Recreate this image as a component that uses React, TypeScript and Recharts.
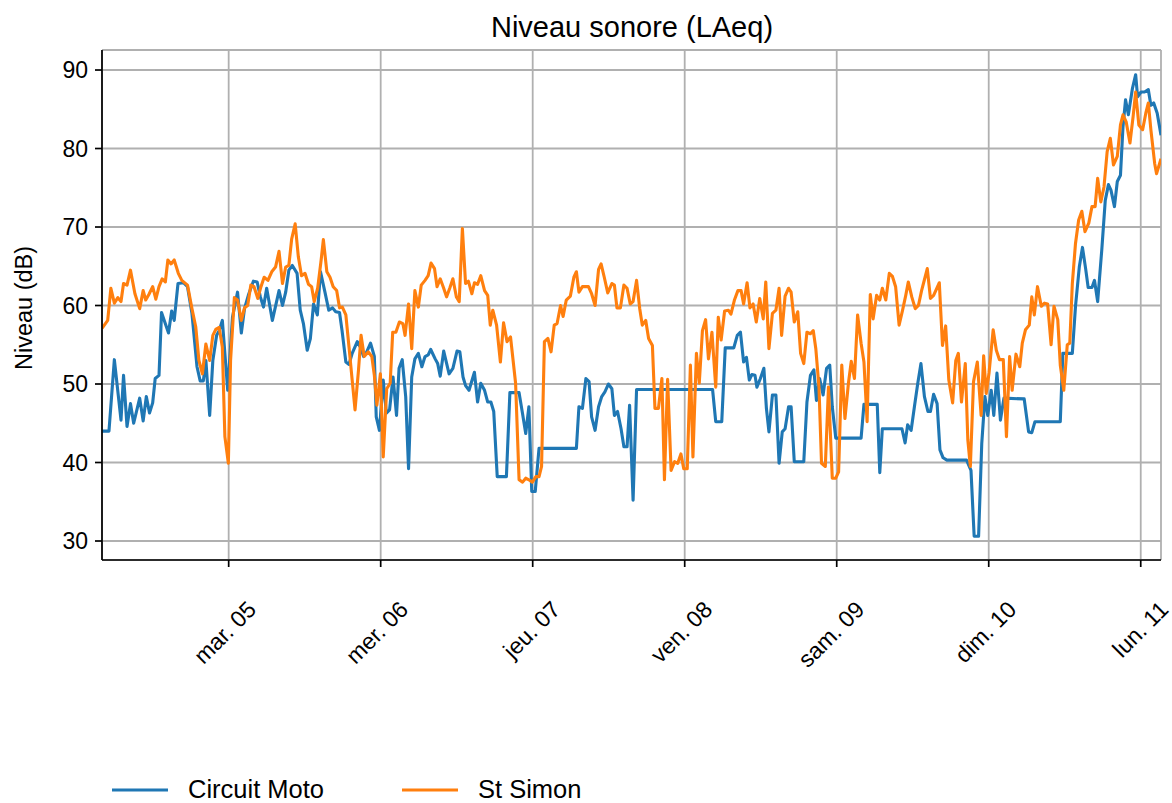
import React from 'react';
import { LineChart, Line, XAxis, YAxis, CartesianGrid } from 'recharts';

const FONT = '"Liberation Sans", Arial, sans-serif';

// x values: hours since lundi 04 00:00
const dayTicks = [24, 48, 72, 96, 120, 144, 168];
const dayLabels = ['mar. 05', 'mer. 06', 'jeu. 07', 'ven. 08', 'sam. 09', 'dim. 10', 'lun. 11'];
const levelTicks = [30, 40, 50, 60, 70, 80, 90];

const motoHours = [
  4.0, 5.1, 5.95, 7.0, 7.4, 7.95, 8.5, 9.0, 9.95, 10.5, 11.0, 11.5, 12.0, 12.4, 13.0, 13.4, 14.5, 15.0, 15.4, 16.0,
  16.85, 17.5, 18.2, 19.0, 19.5, 20.0, 20.4, 21.0, 21.5, 22.1, 22.5, 23.0, 23.85, 24.6, 25.4, 26.0, 26.5, 27.1, 27.9, 28.5,
  29.0, 29.5, 30.0, 30.9, 31.95, 32.5, 33.0, 33.5, 34.05, 34.8, 35.3, 35.8, 36.4, 36.9, 37.4, 38.0, 38.5, 39.2, 39.8, 40.4,
  40.9, 41.5, 41.9, 42.5, 43.0, 43.5, 44.3, 44.8, 45.3, 45.8, 46.4, 47.0, 47.3, 47.8, 48.4, 48.9, 49.4, 49.95, 50.5, 50.9,
  51.4, 51.95, 52.4, 52.9, 53.4, 53.95, 54.5, 55.0, 55.5, 55.9, 56.6, 57.0, 57.4, 57.95, 58.8, 59.4, 60.05, 60.5, 61.0, 61.4,
  61.95, 62.8, 63.3, 63.8, 64.4, 64.9, 65.4, 65.85, 66.4, 67.85, 68.4, 69.85, 70.4, 70.9, 71.4, 71.85, 72.4, 73.0, 78.9, 79.3,
  79.85, 80.4, 80.9, 81.3, 81.85, 82.4, 82.9, 83.4, 83.95, 84.5, 84.9, 85.4, 85.95, 86.4, 86.9, 87.3, 87.85, 88.4, 100.4, 100.9,
  101.85, 102.4, 103.75, 104.3, 104.8, 105.3, 105.75, 106.2, 106.6, 107.1, 107.4, 107.95, 108.5, 108.9, 109.3, 109.85, 110.4, 110.9, 111.4, 111.85,
  112.4, 112.8, 113.3, 114.8, 115.3, 115.85, 116.4, 116.8, 117.3, 117.85, 118.4, 118.9, 119.3, 119.85, 123.85, 124.3, 126.4, 126.8, 127.2, 130.3,
  130.8, 131.2, 131.75, 132.3, 132.8, 133.3, 133.85, 134.4, 134.8, 135.3, 135.85, 136.3, 136.8, 137.4, 140.5, 141.2, 141.7, 142.4, 142.9, 143.4,
  143.85, 144.4, 144.8, 145.3, 145.85, 146.4, 149.6, 150.3, 150.8, 151.3, 155.3, 155.7, 157.2, 157.7, 158.3, 158.8, 159.3, 159.7, 160.3, 160.7,
  161.2, 161.85, 162.4, 162.9, 163.3, 163.85, 164.3, 164.8, 165.2, 165.6, 166.05, 166.7, 167.2, 167.5, 168.05, 168.6, 169.2, 169.6, 170.05, 170.6,
  171.2,
];
const motoLevels = [
  44, 44, 53.1, 45.4, 51.1, 44.6, 47.5, 45, 48.2, 45.3, 48.4, 46.3, 47.6, 50.7, 51.1, 59.1, 56.5, 59.3, 58.1, 62.8,
  62.9, 62.4, 59, 52.2, 50.4, 50.4, 53, 46, 53, 56.2, 56.8, 58.1, 49.2, 58.5, 61.7, 56.5, 59.6, 61.3, 63.1, 63,
  61.1, 59.8, 62.2, 58.1, 61.9, 60, 61.7, 64.5, 65.1, 64.1, 59.4, 57.7, 54.3, 55.8, 60.2, 58.8, 64.3, 61.7, 59.4, 59.7,
  59.2, 59.1, 56.8, 52.8, 52.5, 53.9, 55.4, 54.7, 53.5, 54.1, 55.2, 53.5, 45.8, 44.1, 50.5, 46.3, 46.7, 50.9, 46, 52,
  53.1, 48.4, 39.2, 50.9, 53.2, 53.9, 52.2, 53.5, 53.7, 54.4, 53.2, 52.6, 51, 54.2, 51.3, 52, 54.2, 54.1, 50.9, 49.8,
  49.2, 51.5, 47.7, 50.1, 49.2, 47.7, 47.7, 46.5, 38.2, 38.2, 48.9, 48.9, 46.2, 43.7, 47.1, 36.3, 36.3, 41.8, 41.8, 47.1,
  46.9, 50.7, 50.3, 45.8, 44.1, 47.1, 48.4, 49, 50, 49.4, 46, 46.5, 44.3, 42, 42, 47.3, 35.2, 49.3, 49.3, 45.2,
  45.2, 54.6, 54.6, 56.2, 56.6, 52.8, 53.4, 50.5, 51.2, 51.1, 49.6, 50.7, 52, 46.9, 43.9, 48.6, 48.6, 39.9, 43.9, 44.3,
  47.1, 47.1, 40.1, 40.1, 47.7, 51.1, 51.8, 47.9, 50.7, 48.6, 52, 52.4, 47.1, 43.1, 43.1, 47.4, 47.4, 38.7, 44.3, 44.3,
  42.5, 44.8, 44.1, 47.3, 50.1, 52.6, 48.4, 46.5, 46.5, 48.7, 47.5, 41.6, 40.6, 40.3, 40.3, 39, 30.6, 30.6, 42.4, 48.4,
  46, 49.2, 46, 51.4, 45.4, 48.2, 48.1, 43.9, 43.8, 45.2, 45.2, 53.9, 53.9, 59.9, 64.9, 67.4, 64.7, 62.3, 62.3, 63.2,
  60.5, 67.1, 73.4, 75.4, 74.7, 72.6, 75.8, 76.6, 82.8, 86.2, 84.3, 87.7, 89.4, 86.6, 87.2, 87.2, 87.5, 85.5, 85.8, 84.5,
  81.7,
];

const simonHours = [
  4.0, 4.9, 5.4, 5.95, 6.5, 7.0, 7.4, 7.95, 8.5, 9.2, 9.95, 10.5, 10.9, 11.4, 12.0, 12.5, 13.0, 13.5, 14.0, 14.4,
  14.9, 15.4, 16.05, 16.6, 17.5, 18.2, 18.8, 19.3, 19.85, 20.4, 21.0, 21.5, 22.0, 22.5, 23.0, 23.4, 23.95, 24.3, 24.9, 25.4,
  26.0, 26.5, 27.0, 27.5, 28.0, 28.6, 29.1, 29.6, 30.2, 30.8, 31.4, 31.95, 32.5, 33.0, 33.5, 33.95, 34.5, 35.0, 35.5, 36.05,
  36.6, 37.1, 37.5, 38.05, 38.6, 38.95, 39.5, 40.0, 40.5, 41.05, 41.5, 41.95, 42.5, 43.0, 43.5, 43.95, 44.5, 44.9, 45.4, 46.05,
  46.6, 47.0, 47.4, 47.95, 48.4, 48.95, 49.5, 49.9, 50.4, 50.95, 51.5, 51.85, 52.4, 52.9, 53.4, 53.95, 54.4, 55.0, 55.5, 55.95,
  56.5, 56.9, 57.4, 57.95, 58.4, 58.9, 59.4, 59.95, 60.4, 60.9, 61.4, 61.85, 62.4, 62.8, 63.3, 63.8, 64.4, 64.9, 65.3, 65.7,
  66.3, 66.9, 67.4, 67.95, 68.5, 69.3, 69.85, 70.4, 70.9, 71.4, 71.95, 72.5, 73.0, 73.4, 73.85, 74.4, 74.9, 75.4, 75.85, 76.4,
  76.8, 77.3, 77.95, 78.5, 78.9, 79.3, 79.85, 80.8, 81.3, 81.85, 82.4, 82.8, 83.3, 83.85, 84.5, 84.9, 85.3, 85.85, 86.4, 86.9,
  87.4, 87.85, 88.4, 88.9, 89.3, 89.85, 90.3, 90.9, 91.3, 91.85, 92.4, 92.8, 93.3, 93.85, 94.4, 94.9, 95.4, 95.85, 96.4, 96.9,
  97.3, 97.85, 98.3, 98.8, 99.3, 99.75, 100.3, 100.9, 101.3, 101.75, 102.3, 102.9, 103.3, 103.85, 104.4, 104.9, 105.3, 105.85, 106.3, 106.8,
  107.3, 107.85, 108.4, 108.8, 109.3, 109.85, 110.4, 110.9, 111.3, 111.85, 112.4, 112.8, 113.3, 113.85, 114.3, 114.8, 115.3, 115.85, 116.3, 116.7,
  117.2, 117.6, 118.2, 118.7, 119.3, 119.85, 120.3, 120.8, 121.3, 121.85, 122.3, 122.8, 123.3, 123.85, 124.3, 124.8, 125.3, 125.75, 126.3, 126.8,
  127.2, 127.75, 128.3, 128.8, 129.3, 129.85, 130.4, 130.9, 131.3, 131.85, 132.4, 132.9, 133.4, 133.95, 134.3, 134.8, 135.3, 136.2, 136.7, 137.2,
  137.7, 138.3, 138.8, 139.2, 139.7, 140.3, 140.7, 141.1, 141.6, 142.2, 142.8, 143.2, 143.6, 144.05, 144.7, 145.2, 145.7, 146.3, 146.8, 147.3,
  147.7, 148.3, 148.9, 149.3, 149.8, 150.4, 150.8, 151.2, 151.7, 152.3, 152.8, 153.3, 153.85, 154.3, 154.9, 155.3, 155.85, 156.4, 156.8, 157.2,
  157.7, 158.2, 158.7, 159.2, 159.8, 160.3, 160.8, 161.2, 161.7, 162.2, 162.7, 163.2, 163.7, 164.3, 164.8, 165.2, 165.7, 166.3, 166.8, 167.2,
  167.7, 168.3, 168.8, 169.2, 169.6, 170.2, 170.5, 171.2,
];
const simonLevels = [
  57.1, 58.1, 62.2, 60.3, 61, 60.5, 62.8, 62.6, 64.5, 61.5, 59.6, 61.9, 60.7, 61.4, 62.4, 60.8, 62.4, 63.4, 63, 65.8,
  65.3, 65.8, 64.1, 63.2, 62.6, 59.6, 57.3, 53, 51.3, 55.1, 53, 56.2, 57, 57.2, 54.7, 43.3, 39.9, 53, 61, 60.7,
  58.1, 59.7, 60, 62.6, 62.4, 60.9, 62.4, 63.6, 63.2, 64.3, 64.9, 66.9, 62.8, 64.9, 65.1, 68.5, 70.4, 66.2, 63.8, 64.1,
  62.7, 62.4, 60.5, 62.2, 65.8, 68.4, 64.3, 63.6, 62.4, 61.9, 59.7, 59.8, 58.8, 54.7, 50.5, 46.7, 51.8, 56.2, 53.5, 54.1,
  53.5, 51.1, 47.3, 51.3, 40.7, 49.4, 50.1, 56.6, 56.6, 57.9, 57.7, 56.2, 60.2, 54.5, 61.9, 59.8, 62.6, 63.2, 63.8, 65.4,
  64.7, 62.4, 63.4, 62.2, 61.1, 62.2, 63.4, 61.1, 60.5, 69.8, 62.8, 63.1, 61.5, 62.9, 62.7, 63.8, 61.9, 61.3, 57.5, 59.4,
  57.5, 52.8, 57.8, 55.4, 56, 50.1, 37.8, 37.5, 38, 37.8, 37.5, 38.2, 38.2, 39.5, 55.4, 55.8, 54.1, 57.5, 57.7, 60,
  58.6, 60.7, 61.2, 63.6, 64.3, 61.7, 62.4, 62.4, 61.5, 60, 64.6, 65.3, 63.6, 61.6, 62.8, 62.6, 59.7, 59.7, 62.6, 62.2,
  60.2, 60.5, 63.2, 59.6, 57.5, 58.1, 55.8, 54.9, 46.9, 46.9, 50.7, 37.8, 50.6, 39, 40.1, 39.9, 41.1, 39.2, 39.2, 52.4,
  40.7, 53.9, 50.1, 56.8, 58.2, 53.2, 56.6, 49.6, 58.5, 55.6, 59.3, 59.4, 58.9, 60.7, 61.9, 61.9, 60.2, 62.9, 59.7, 60.2,
  57.9, 60.9, 58.3, 63, 54.5, 59, 59.4, 62.2, 56.2, 61.2, 62.2, 61.7, 57.9, 59.2, 53.9, 52.6, 56.6, 56.4, 56.8, 54.5,
  49.6, 39.9, 39.5, 49.6, 38, 38, 38.8, 52.4, 45.6, 50.1, 52.9, 50.7, 58.8, 55.2, 52.8, 45.2, 61.4, 58.3, 61.3, 60.7,
  62.2, 60.7, 64.1, 63.7, 62.4, 57.5, 59.4, 61.3, 63, 61.1, 59.6, 60, 61.9, 63.6, 64.7, 60.9, 61.3, 62.9, 54.9, 57.4,
  50.5, 47.6, 53, 53.9, 47.7, 52.6, 42.9, 39.5, 50.3, 52.8, 46, 53.6, 48.8, 51.4, 56.9, 54.3, 53.1, 53.1, 43.3, 53.5,
  49.2, 53.8, 52.2, 55.2, 56.9, 57.5, 61.1, 58.8, 62.4, 59.9, 60.3, 60.2, 55, 59.9, 58.2, 52.4, 49.2, 55, 55.2, 62.8,
  67.9, 70.9, 72, 69.4, 70.5, 72.6, 72.6, 76.2, 73.2, 75.1, 79.6, 81.3, 77.9, 79, 83, 84.3, 83.4, 80.7, 84.1, 87.2,
  83, 82.4, 84.5, 85.8, 82.4, 78.1, 76.8, 78.7,
];

const motoData = motoHours.map((t, i) => ({ t, v: motoLevels[i] }));
const simonData = simonHours.map((t, i) => ({ t, v: simonLevels[i] }));

const xDomain: [number, number] = [4, 171.2];
const yDomain: [number, number] = [27.58, 92.55];

const BLUE = '#1f77b4';
const ORANGE = '#ff7f0e';
const LINE_W = 3.1;
const SPINE_W = 1.7;

const XTick = (props: any) => {
  const { x, y, payload } = props;
  const i = dayTicks.indexOf(payload.value);
  const tx = x + 29;
  const ty = y + 44;
  return (
    <text
      x={tx}
      y={ty}
      transform={`rotate(-45, ${tx}, ${ty})`}
      textAnchor="end"
      fontSize={23}
      fontFamily={FONT}
      fill="#000"
    >
      {i >= 0 ? dayLabels[i] : ''}
    </text>
  );
};

export default function App() {
  return (
    <div style={{ position: 'absolute', left: 0, top: 0, width: 1172, height: 803, background: '#fff' }}>
      <LineChart width={1172} height={803} margin={{ top: 50, right: 11, bottom: 0, left: 0 }}>
        <CartesianGrid xAxisId="b" yAxisId="l" stroke="#b0b0b0" strokeWidth={1.8} />
        <XAxis
          xAxisId="b"
          type="number"
          dataKey="t"
          domain={xDomain}
          ticks={dayTicks}
          interval={0}
          allowDataOverflow
          height={243}
          tickSize={7}
          tickMargin={0}
          tick={<XTick />}
          axisLine={{ stroke: '#000', strokeWidth: SPINE_W }}
          tickLine={{ stroke: '#000', strokeWidth: SPINE_W }}
        />
        <XAxis
          xAxisId="top"
          orientation="top"
          type="number"
          dataKey="t"
          domain={xDomain}
          allowDataOverflow
          height={0}
          tick={false}
          tickLine={false}
          axisLine={{ stroke: '#000', strokeWidth: SPINE_W }}
        />
        <YAxis
          yAxisId="l"
          type="number"
          domain={yDomain}
          ticks={levelTicks}
          interval={0}
          allowDataOverflow
          width={102}
          tickSize={7}
          tickMargin={7}
          tick={{ fontSize: 23, fontFamily: FONT, fill: '#000' }}
          axisLine={{ stroke: '#000', strokeWidth: SPINE_W }}
          tickLine={{ stroke: '#000', strokeWidth: SPINE_W }}
        />
        <YAxis
          yAxisId="r"
          orientation="right"
          type="number"
          domain={yDomain}
          allowDataOverflow
          width={0}
          tick={false}
          tickLine={false}
          axisLine={{ stroke: '#000', strokeWidth: SPINE_W }}
        />
        <Line
          xAxisId="b"
          yAxisId="l"
          data={motoData}
          dataKey="v"
          type="linear"
          stroke={BLUE}
          strokeWidth={LINE_W}
          strokeLinejoin="round"
          dot={false}
          activeDot={false}
          isAnimationActive={false}
        />
        <Line
          xAxisId="b"
          yAxisId="l"
          data={simonData}
          dataKey="v"
          type="linear"
          stroke={ORANGE}
          strokeWidth={LINE_W}
          strokeLinejoin="round"
          dot={false}
          activeDot={false}
          isAnimationActive={false}
        />
      </LineChart>
      <svg
        width={1172}
        height={803}
        style={{ position: 'absolute', left: 0, top: 0, pointerEvents: 'none' }}
      >
        <text x={632} y={37} textAnchor="middle" fontSize={29} fontFamily={FONT} fill="#000">
          Niveau sonore (LAeq)
        </text>
        <text
          x={32}
          y={308}
          transform="rotate(-90, 32, 308)"
          textAnchor="middle"
          fontSize={23.5}
          fontFamily={FONT}
          fill="#000"
        >
          Niveau (dB)
        </text>
        <line x1={112} y1={790} x2={168} y2={790} stroke={BLUE} strokeWidth={LINE_W} />
        <text x={188} y={798} fontSize={25.5} fontFamily={FONT} fill="#000">
          Circuit Moto
        </text>
        <line x1={402} y1={790} x2={458} y2={790} stroke={ORANGE} strokeWidth={LINE_W} />
        <text x={478} y={798} fontSize={25.5} fontFamily={FONT} fill="#000">
          St Simon
        </text>
      </svg>
    </div>
  );
}
